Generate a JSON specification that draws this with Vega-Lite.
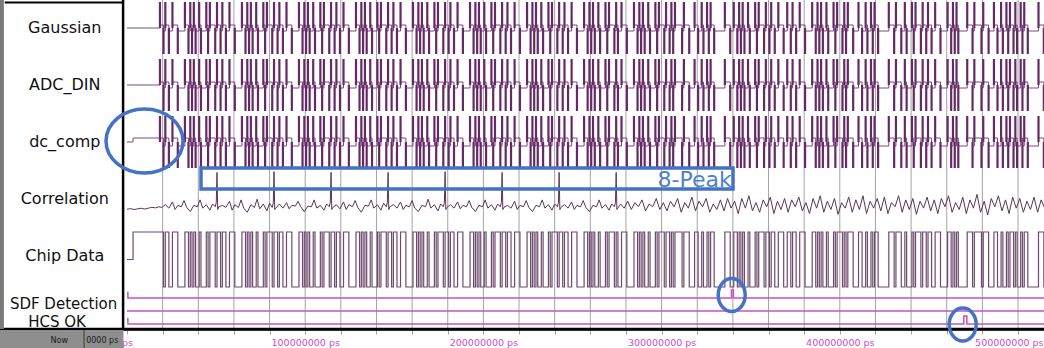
{
"$schema":"https://vega.github.io/schema/vega-lite/v6.json",
"width":1044,"height":329,"autosize":"none",
"padding":{"left":0,"top":0,"right":0,"bottom":19},
"background":"#ffffff",
"config":{"view":{"stroke":null},"font":"DejaVu Sans"},
"datasets":{
"grid":[{"t":20},{"t":40},{"t":60},{"t":80},{"t":100},{"t":120},{"t":140},{"t":160},{"t":180},{"t":200},{"t":220},{"t":240},{"t":260},{"t":280},{"t":300},{"t":320},{"t":340},{"t":360},{"t":380},{"t":400},{"t":420},{"t":440},{"t":460},{"t":480},{"t":500}],
"lead":[{"t":0,"c":0.5},{"t":18.5,"c":0.5}],
"sdf":[{"t":0,"c":0.7},{"t":0.5,"c":0},{"t":339.2,"c":1},{"t":340.3,"c":0},{"t":515,"c":0}],
"hcs":[{"t":0,"c":0.7},{"t":0.5,"c":0},{"t":469.6,"c":1},{"t":471.3,"c":0},{"t":515,"c":0}],
"labels":[{"name":"Gaussian","lane":0},{"name":"ADC_DIN","lane":1},{"name":"dc_comp","lane":2},{"name":"Correlation","lane":3},{"name":"Chip Data","lane":4},{"name":"SDF Detection","lane":4.842},{"name":"HCS OK","lane":5.158}],
"chips":[{"t":0,"c":0.5},{"t":3.4,"c":1},{"t":18.5,"c":1},
{"t":20.5,"c":0},{"t":21.5,"c":1},{"t":23.5,"c":0},{"t":25.5,"c":1},{"t":28.5,"c":0},{"t":32.5,"c":1},{"t":34.5,"c":0},{"t":35.5,"c":1},{"t":36.5,"c":0},{"t":37.5,"c":1},{"t":38.5,"c":0},{"t":40.5,"c":1},{"t":41.5,"c":0},{"t":44.5,"c":1},{"t":45.5,"c":0},{"t":46.5,"c":1},{"t":49.5,"c":0},
{"t":50.5,"c":1},{"t":52.5,"c":0},{"t":53.5,"c":1},{"t":55.5,"c":0},{"t":57.5,"c":1},{"t":60.5,"c":0},{"t":64.5,"c":1},{"t":66.5,"c":0},{"t":67.5,"c":1},{"t":68.5,"c":0},{"t":69.5,"c":1},{"t":70.5,"c":0},{"t":72.5,"c":1},{"t":73.5,"c":0},{"t":76.5,"c":1},{"t":77.5,"c":0},{"t":78.5,"c":1},{"t":81.5,"c":0},
{"t":82.5,"c":1},{"t":84.5,"c":0},{"t":85.5,"c":1},{"t":87.5,"c":0},{"t":89.5,"c":1},{"t":92.5,"c":0},{"t":96.5,"c":1},{"t":98.5,"c":0},{"t":99.5,"c":1},{"t":100.5,"c":0},{"t":101.5,"c":1},{"t":102.5,"c":0},{"t":104.5,"c":1},{"t":105.5,"c":0},{"t":108.5,"c":1},{"t":109.5,"c":0},{"t":110.5,"c":1},{"t":113.5,"c":0},
{"t":114.5,"c":1},{"t":116.5,"c":0},{"t":117.5,"c":1},{"t":119.5,"c":0},{"t":121.5,"c":1},{"t":124.5,"c":0},{"t":128.5,"c":1},{"t":130.5,"c":0},{"t":131.5,"c":1},{"t":132.5,"c":0},{"t":133.5,"c":1},{"t":134.5,"c":0},{"t":136.5,"c":1},{"t":137.5,"c":0},{"t":140.5,"c":1},{"t":141.5,"c":0},{"t":142.5,"c":1},{"t":145.5,"c":0},
{"t":146.5,"c":1},{"t":148.5,"c":0},{"t":149.5,"c":1},{"t":151.5,"c":0},{"t":153.5,"c":1},{"t":156.5,"c":0},{"t":160.5,"c":1},{"t":162.5,"c":0},{"t":163.5,"c":1},{"t":164.5,"c":0},{"t":165.5,"c":1},{"t":166.5,"c":0},{"t":168.5,"c":1},{"t":169.5,"c":0},{"t":172.5,"c":1},{"t":173.5,"c":0},{"t":174.5,"c":1},{"t":177.5,"c":0},
{"t":178.5,"c":1},{"t":180.5,"c":0},{"t":181.5,"c":1},{"t":183.5,"c":0},{"t":185.5,"c":1},{"t":188.5,"c":0},{"t":192.5,"c":1},{"t":194.5,"c":0},{"t":195.5,"c":1},{"t":196.5,"c":0},{"t":197.5,"c":1},{"t":198.5,"c":0},{"t":200.5,"c":1},{"t":201.5,"c":0},{"t":204.5,"c":1},{"t":205.5,"c":0},{"t":206.5,"c":1},{"t":209.5,"c":0},
{"t":210.5,"c":1},{"t":212.5,"c":0},{"t":213.5,"c":1},{"t":215.5,"c":0},{"t":217.5,"c":1},{"t":220.5,"c":0},{"t":224.5,"c":1},{"t":226.5,"c":0},{"t":227.5,"c":1},{"t":228.5,"c":0},{"t":229.5,"c":1},{"t":230.5,"c":0},{"t":232.5,"c":1},{"t":233.5,"c":0},{"t":236.5,"c":1},{"t":237.5,"c":0},{"t":238.5,"c":1},{"t":241.5,"c":0},
{"t":242.5,"c":1},{"t":244.5,"c":0},{"t":245.5,"c":1},{"t":247.5,"c":0},{"t":249.5,"c":1},{"t":252.5,"c":0},{"t":256.5,"c":1},{"t":258.5,"c":0},{"t":259.5,"c":1},{"t":260.5,"c":0},{"t":261.5,"c":1},{"t":262.5,"c":0},{"t":264.5,"c":1},{"t":265.5,"c":0},{"t":268.5,"c":1},{"t":269.5,"c":0},{"t":270.5,"c":1},{"t":273.5,"c":0},
{"t":274.5,"c":1},{"t":275.5,"c":0},{"t":277.5,"c":1},{"t":280.5,"c":0},{"t":284.5,"c":1},{"t":286.5,"c":0},{"t":287.5,"c":1},{"t":288.5,"c":0},{"t":289.5,"c":1},{"t":290.5,"c":0},{"t":292.5,"c":1},{"t":293.5,"c":0},{"t":296.5,"c":1},{"t":297.5,"c":0},{"t":298.5,"c":1},{"t":301.5,"c":0},{"t":302.5,"c":1},{"t":304.5,"c":0},{"t":305.5,"c":1},
{"t":306.5,"c":0},{"t":307.5,"c":1},{"t":311.5,"c":0},{"t":312.5,"c":1},{"t":315.5,"c":0},{"t":318.5,"c":1},{"t":320.5,"c":0},{"t":322.5,"c":1},{"t":323.5,"c":0},{"t":325.5,"c":1},{"t":326.5,"c":0},{"t":327.5,"c":1},{"t":329.5,"c":0},{"t":335.5,"c":1},
{"t":338.5,"c":0},{"t":340.5,"c":1},{"t":342.5,"c":0},{"t":343.5,"c":1},{"t":344.5,"c":0},{"t":345.5,"c":1},{"t":346.5,"c":0},{"t":348.5,"c":1},{"t":349.5,"c":0},{"t":352.5,"c":1},{"t":353.5,"c":0},{"t":354.5,"c":1},{"t":357.5,"c":0},{"t":358.5,"c":1},{"t":360.5,"c":0},{"t":361.5,"c":1},{"t":363.5,"c":0},{"t":365.5,"c":1},{"t":368.5,"c":0},
{"t":370.5,"c":1},{"t":372.5,"c":0},{"t":373.5,"c":1},{"t":375.5,"c":0},{"t":377.5,"c":1},{"t":380.5,"c":0},{"t":384.5,"c":1},{"t":386.5,"c":0},{"t":387.5,"c":1},{"t":388.5,"c":0},{"t":389.5,"c":1},{"t":390.5,"c":0},{"t":392.5,"c":1},{"t":393.5,"c":0},{"t":396.5,"c":1},{"t":397.5,"c":0},{"t":398.5,"c":1},{"t":401.5,"c":0},
{"t":402.5,"c":1},{"t":403.5,"c":0},{"t":404.5,"c":1},{"t":407.5,"c":0},{"t":410.5,"c":1},{"t":412.5,"c":0},{"t":414.5,"c":1},{"t":415.5,"c":0},{"t":417.5,"c":1},{"t":418.5,"c":0},{"t":419.5,"c":1},{"t":421.5,"c":0},{"t":427.5,"c":1},{"t":430.5,"c":0},{"t":431.5,"c":1},
{"t":434.5,"c":0},{"t":436.5,"c":1},{"t":437.5,"c":0},{"t":440.5,"c":1},{"t":441.5,"c":0},{"t":442.5,"c":1},{"t":445.5,"c":0},{"t":446.5,"c":1},{"t":448.5,"c":0},{"t":449.5,"c":1},{"t":451.5,"c":0},{"t":453.5,"c":1},{"t":456.5,"c":0},{"t":460.5,"c":1},{"t":462.5,"c":0},{"t":463.5,"c":1},{"t":464.5,"c":0},{"t":465.5,"c":1},
{"t":466.5,"c":0},{"t":471.5,"c":1},{"t":474.5,"c":0},{"t":475.5,"c":1},{"t":479.5,"c":0},{"t":480.5,"c":1},{"t":483.5,"c":0},{"t":486.5,"c":1},{"t":488.5,"c":0},{"t":490.5,"c":1},{"t":491.5,"c":0},{"t":493.5,"c":1},{"t":494.5,"c":0},{"t":495.5,"c":1},{"t":497.5,"c":0},
{"t":498.5,"c":1},{"t":499.5,"c":0},{"t":501.5,"c":1},{"t":502.5,"c":0},{"t":503.5,"c":1},{"t":505.5,"c":0},{"t":511.5,"c":1},{"t":514.5,"c":0},{"t":516,"c":0}],
"corr":[{"t":0,"c":4.2},{"t":2,"c":4.6},{"t":4,"c":4.0},{"t":6,"c":4.5},{"t":8,"c":4.9},{"t":10,"c":4.3},{"t":12,"c":5.0},{"t":14,"c":5.6},{"t":16,"c":5.2},{"t":18,"c":6.0},
{"t":19.5,"c":5.5},{"t":21.5,"c":7.5},{"t":23.5,"c":5},{"t":25.5,"c":9.5},{"t":27,"c":4},{"t":28.5,"c":7},{"t":30.5,"c":6},{"t":32,"c":10.5},{"t":33.5,"c":5.5},{"t":35.5,"c":2.5},{"t":37.5,"c":7},{"t":39.5,"c":6},{"t":41,"c":11},{"t":42.5,"c":5},{"t":44.5,"c":7.5},{"t":46.5,"c":3.5},{"t":48,"c":8},{"t":49.5,"c":6},{"t":50.1,"c":9},{"t":50.5,"c":31},{"t":50.9,"c":4},
{"t":51.5,"c":6},{"t":53.5,"c":7},{"t":55.5,"c":5.5},{"t":57.5,"c":10},{"t":59,"c":3.5},{"t":60.5,"c":7.5},{"t":62.5,"c":5.5},{"t":64,"c":11},{"t":65.5,"c":5},{"t":67.5,"c":2},{"t":69.5,"c":7.5},{"t":71.5,"c":5.5},{"t":73,"c":11.5},{"t":74.5,"c":4.5},{"t":76.5,"c":8},{"t":78.5,"c":3},{"t":80,"c":8.5},{"t":81.5,"c":5.5},{"t":82.1,"c":9},{"t":82.5,"c":31.5},{"t":82.9,"c":4},
{"t":83.5,"c":5},{"t":85.5,"c":8},{"t":87.5,"c":5},{"t":89.5,"c":9},{"t":91,"c":4.5},{"t":92.5,"c":7},{"t":94.5,"c":6.5},{"t":96,"c":10},{"t":97.5,"c":6},{"t":99.5,"c":2.5},{"t":101.5,"c":6.5},{"t":103.5,"c":6},{"t":105,"c":11},{"t":106.5,"c":5},{"t":108.5,"c":7},{"t":110.5,"c":3.5},{"t":112,"c":8},{"t":113.5,"c":6},{"t":114.1,"c":9.5},{"t":114.5,"c":31},{"t":114.9,"c":4},
{"t":115.5,"c":5.5},{"t":117.5,"c":7.5},{"t":119.5,"c":4.5},{"t":121.5,"c":9.5},{"t":123,"c":4},{"t":124.5,"c":7.5},{"t":126.5,"c":6},{"t":128,"c":10.5},{"t":129.5,"c":5.5},{"t":131.5,"c":2},{"t":133.5,"c":7},{"t":135.5,"c":6.5},{"t":137,"c":11},{"t":138.5,"c":5},{"t":140.5,"c":7.5},{"t":142.5,"c":3.5},{"t":144,"c":8.5},{"t":145.5,"c":6},{"t":146.1,"c":9},{"t":146.5,"c":31},{"t":146.9,"c":4},
{"t":147.5,"c":6},{"t":149.5,"c":7.5},{"t":151.5,"c":5},{"t":153.5,"c":9.5},{"t":155,"c":4},{"t":156.5,"c":7},{"t":158.5,"c":6},{"t":160,"c":10.5},{"t":161.5,"c":5},{"t":163.5,"c":2.5},{"t":165.5,"c":7},{"t":167.5,"c":6},{"t":169,"c":11.5},{"t":170.5,"c":5},{"t":172.5,"c":7.5},{"t":174.5,"c":3},{"t":176,"c":8},{"t":177.5,"c":6},{"t":178.1,"c":9},{"t":178.5,"c":31.5},{"t":178.9,"c":4},
{"t":179.5,"c":5.5},{"t":181.5,"c":7.5},{"t":183.5,"c":5},{"t":185.5,"c":9.5},{"t":187,"c":4.5},{"t":188.5,"c":7},{"t":190.5,"c":6},{"t":192,"c":10.5},{"t":193.5,"c":5.5},{"t":195.5,"c":2.5},{"t":197.5,"c":7},{"t":199.5,"c":6},{"t":201,"c":11},{"t":202.5,"c":5},{"t":204.5,"c":7.5},{"t":206.5,"c":3.5},{"t":208,"c":8},{"t":209.5,"c":6},{"t":210.1,"c":9},{"t":210.5,"c":31},{"t":210.9,"c":4},
{"t":211.5,"c":5.5},{"t":213.5,"c":7},{"t":215.5,"c":5},{"t":217.5,"c":10},{"t":219,"c":4},{"t":220.5,"c":7},{"t":222.5,"c":6},{"t":224,"c":10.5},{"t":225.5,"c":5.5},{"t":227.5,"c":2.5},{"t":229.5,"c":7},{"t":231.5,"c":6},{"t":233,"c":11},{"t":234.5,"c":5},{"t":236.5,"c":7.5},{"t":238.5,"c":3.5},{"t":240,"c":8},{"t":241.5,"c":6},{"t":242.1,"c":9},{"t":242.5,"c":31},{"t":242.9,"c":4},
{"t":243.5,"c":5.5},{"t":245.5,"c":7.5},{"t":247.5,"c":5},{"t":249.5,"c":9.5},{"t":251,"c":4},{"t":252.5,"c":7},{"t":254.5,"c":6},{"t":256,"c":10.5},{"t":257.5,"c":5.5},{"t":259.5,"c":2.5},{"t":261.5,"c":7},{"t":263.5,"c":6},{"t":265,"c":11},{"t":266.5,"c":5},{"t":268.5,"c":7.5},{"t":270.5,"c":3.5},{"t":272,"c":8},{"t":273.5,"c":6},{"t":274.1,"c":9},{"t":274.5,"c":31},{"t":274.9,"c":4},
{"t":277,"c":8},{"t":279,"c":5},{"t":281,"c":10},{"t":283,"c":4},{"t":285,"c":9},{"t":287,"c":6},{"t":289,"c":11},{"t":291,"c":3},{"t":293,"c":8},{"t":295,"c":6},{"t":297,"c":12},{"t":299,"c":4},{"t":301,"c":9},{"t":303,"c":3},{"t":305,"c":10},{"t":307,"c":6},{"t":309,"c":12},{"t":311,"c":2},{"t":313,"c":9},{"t":315,"c":5},{"t":317,"c":13},{"t":319,"c":3},{"t":321,"c":10},{"t":323,"c":6},{"t":325,"c":12},{"t":327,"c":2},{"t":329,"c":8},{"t":331,"c":4},{"t":333,"c":11},{"t":335,"c":3},{"t":337,"c":12},{"t":339,"c":5},{"t":341,"c":10},{"t":343,"c":1},{"t":345,"c":12},{"t":347,"c":5},{"t":349,"c":14},{"t":351,"c":3},{"t":353,"c":9},{"t":355,"c":2},{"t":357,"c":11},{"t":359,"c":6},{"t":361,"c":13},{"t":363,"c":1},{"t":365,"c":10},{"t":367,"c":4},{"t":369,"c":12},{"t":371,"c":2},{"t":373,"c":11},{"t":375,"c":6},{"t":377,"c":13},{"t":379,"c":3},{"t":381,"c":9},{"t":383,"c":1},{"t":385,"c":12},{"t":387,"c":5},{"t":389,"c":14},{"t":391,"c":2},{"t":393,"c":10},{"t":395,"c":4},{"t":397,"c":12},{"t":399,"c":0.5},{"t":401,"c":9},{"t":403,"c":5},{"t":405,"c":13},{"t":407,"c":2},{"t":409,"c":11},{"t":411,"c":4},{"t":413,"c":14},{"t":415,"c":1},{"t":417,"c":10},{"t":419,"c":5},{"t":421,"c":12},{"t":423,"c":3},{"t":425,"c":13},{"t":427,"c":1},{"t":429,"c":9},{"t":431,"c":6},{"t":433,"c":14},{"t":435,"c":2},{"t":437,"c":11},{"t":439,"c":4},{"t":441,"c":12},{"t":443,"c":0.5},{"t":445,"c":10},{"t":447,"c":5},{"t":449,"c":13},{"t":451,"c":3},{"t":453,"c":11},{"t":455,"c":1},{"t":457,"c":12},{"t":459,"c":6},{"t":461,"c":14},{"t":463,"c":2},{"t":465,"c":9},{"t":467,"c":4},{"t":469,"c":13},{"t":471,"c":1},{"t":473,"c":11},{"t":475,"c":5},{"t":477,"c":15},{"t":479,"c":2},{"t":481,"c":10},{"t":483,"c":0},{"t":485,"c":12},{"t":487,"c":6},{"t":489,"c":14},{"t":491,"c":3},{"t":493,"c":11},{"t":495,"c":1},{"t":497,"c":13},{"t":499,"c":5},{"t":501,"c":12},{"t":503,"c":2},{"t":505,"c":10},{"t":507,"c":4},{"t":509,"c":13},{"t":511,"c":2},{"t":513,"c":11},{"t":515,"c":5}]
},
"resolve":{"scale":{"y":"independent"}},
"layer":[
{"data":{"name":"grid"},"mark":{"type":"rule","color":"#a3a3a3","strokeWidth":1},"encoding":{"x":{"field":"t","type":"quantitative","axis":{"title":null}}}},
{"data":{"values":[{}]},"mark":{"type":"rule","color":"#c452c4","strokeWidth":1.5},"encoding":{"x":{"datum":0,"type":"quantitative","axis":{"title":null}},"x2":{"datum":515},"y":{"datum":4.965,"type":"quantitative","scale":{"domain":[-0.491228,5.280702],"reverse":true,"nice":false,"zero":false},"axis":null}}},
{"data":{"name":"sdf"},"mark":{"type":"line","interpolate":"step-after","color":"#c452c4","strokeWidth":1.5},"encoding":{"x":{"field":"t","type":"quantitative","axis":{"title":null}},"y":{"field":"c","type":"quantitative","scale":{"domain":[-3.875,37.25],"nice":false,"zero":false},"axis":null}}},
{"data":{"name":"hcs"},"mark":{"type":"line","interpolate":"step-after","color":"#c452c4","strokeWidth":1.5},"encoding":{"x":{"field":"t","type":"quantitative","axis":{"title":null}},"y":{"field":"c","type":"quantitative","scale":{"domain":[-0.625,40.5],"nice":false,"zero":false},"axis":null}}},
{"data":{"name":"lead"},"mark":{"type":"line","color":"#7a4a7a","strokeWidth":1},"encoding":{"x":{"field":"t","type":"quantitative","axis":{"title":null}},"y":{"field":"c","type":"quantitative","scale":{"domain":[-49.666667,5.166667],"nice":false,"zero":false},"axis":null}}},
{"data":{"name":"chips"},"transform":[{"filter":"datum.t >= 18"}],"mark":{"type":"line","interpolate":"step-after","color":"#7a4a7a","strokeWidth":1},"encoding":{"x":{"field":"t","type":"quantitative","axis":{"title":null}},"y":{"field":"c","type":"quantitative","scale":{"domain":[-49.666667,5.166667],"nice":false,"zero":false},"axis":null}}},
{"data":{"name":"chips"},"transform":[{"filter":"datum.t >= 18 && datum.t < 515.5"}],"mark":{"type":"rule","color":"#652a65","strokeWidth":2.2},"encoding":{"x":{"field":"t","type":"quantitative","axis":{"title":null}},"y":{"field":"c","type":"quantitative","scale":{"domain":[-5.28846,1.03846],"nice":false,"zero":false},"axis":null},"y2":{"datum":0.5}}},
{"data":{"name":"lead"},"mark":{"type":"line","color":"#7a4a7a","strokeWidth":1},"encoding":{"x":{"field":"t","type":"quantitative","axis":{"title":null}},"y":{"field":"c","type":"quantitative","scale":{"domain":[-40.166667,14.666667],"nice":false,"zero":false},"axis":null}}},
{"data":{"name":"chips"},"transform":[{"filter":"datum.t >= 18"}],"mark":{"type":"line","interpolate":"step-after","color":"#7a4a7a","strokeWidth":1},"encoding":{"x":{"field":"t","type":"quantitative","axis":{"title":null}},"y":{"field":"c","type":"quantitative","scale":{"domain":[-40.166667,14.666667],"nice":false,"zero":false},"axis":null}}},
{"data":{"name":"chips"},"transform":[{"filter":"datum.t >= 18 && datum.t < 515.5"}],"mark":{"type":"rule","color":"#652a65","strokeWidth":2.2},"encoding":{"x":{"field":"t","type":"quantitative","axis":{"title":null}},"y":{"field":"c","type":"quantitative","scale":{"domain":[-4.19231,2.13462],"nice":false,"zero":false},"axis":null},"y2":{"datum":0.5}}},
{"data":{"name":"chips"},"mark":{"type":"line","interpolate":"step-after","color":"#7a4a7a","strokeWidth":1},"encoding":{"x":{"field":"t","type":"quantitative","axis":{"title":null}},"y":{"field":"c","type":"quantitative","scale":{"domain":[-22.875,18.25],"nice":false,"zero":false},"axis":null}}},
{"data":{"name":"chips"},"transform":[{"filter":"datum.t >= 18 && datum.t < 515.5"}],"mark":{"type":"rule","color":"#652a65","strokeWidth":2.2},"encoding":{"x":{"field":"t","type":"quantitative","axis":{"title":null}},"y":{"field":"c","type":"quantitative","scale":{"domain":[-3.09615,3.23077],"nice":false,"zero":false},"axis":null},"y2":{"datum":0.5}}},
{"data":{"name":"corr"},"mark":{"type":"line","color":"#5a3558","strokeWidth":1},"encoding":{"x":{"field":"t","type":"quantitative","scale":{"domain":[-71.27,514.59],"nice":false,"zero":false},
"axis":{"orient":"bottom","values":[0,5,10,15,20,25,30,35,40,45,50,55,60,65,70,75,80,85,90,95,100,105,110,115,120,125,130,135,140,145,150,155,160,165,170,175,180,185,190,195,200,205,210,215,220,225,230,235,240,245,250,255,260,265,270,275,280,285,290,295,300,305,310,315,320,325,330,335,340,345,350,355,360,365,370,375,380,385,390,395,400,405,410,415,420,425,430,435,440,445,450,455,460,465,470,475,480,485,490,495,500,505,510],
"labelExpr":"datum.value === 0 ? 'ps' : (datum.value % 100 === 0 ? datum.value + '000000 ps' : '')",
"labelAlign":{"condition":{"test":"datum.value === 500","value":"right"},"value":"center"},
"labelOffset":{"condition":{"test":"datum.value === 500","value":25},"value":0},
"title":null,"grid":false,"domain":true,"ticks":true,"labels":true,"domainColor":"#000000","domainWidth":2.5,"tickColor":"#a0a0a0","tickSize":5,"tickWidth":1,
"labelColor":"#c84fc8","labelFont":"DejaVu Sans","labelFontSize":9.5,"labelPadding":3,"labelOverlap":false,"labelFlush":false}},"y":{"field":"c","type":"quantitative","scale":{"domain":[-82.909,156.364],"nice":false,"zero":false},"axis":null}}},
{"data":{"name":"chips"},"mark":{"type":"line","interpolate":"step-after","color":"#6e4a6e","strokeWidth":1.2},"encoding":{"x":{"field":"t","type":"quantitative","axis":{"title":null}},"y":{"field":"c","type":"quantitative","scale":{"domain":[-0.76364,5.21818],"nice":false,"zero":false},"axis":null}}},
{"data":{"values":[{}]},"mark":{"type":"rule","color":"#000000","strokeWidth":2.5},"encoding":{"x":{"datum":-71.27,"type":"quantitative","axis":{"title":null}},"x2":{"datum":514.59},"y":{"datum":5.2807,"type":"quantitative","scale":{"domain":[-0.491228,5.280702],"reverse":true,"nice":false,"zero":false},"axis":null}}},
{"data":{"values":[{"t":-2.2}]},"mark":{"type":"rule","color":"#000000","strokeWidth":2.5},"encoding":{"x":{"field":"t","type":"quantitative","axis":{"title":null}}}},
{"data":{"values":[{"t":-70.2}]},"mark":{"type":"rule","color":"#7a7a7a","strokeWidth":4},"encoding":{"x":{"field":"t","type":"quantitative","axis":{"title":null}}}},
{"data":{"values":[{}]},"mark":{"type":"rule","color":"#000000","strokeWidth":2},"encoding":{"x":{"datum":-68.6,"type":"quantitative","axis":{"title":null}},"x2":{"datum":-2.2},"y":{"datum":-0.447,"type":"quantitative","scale":{"domain":[-0.491228,5.280702],"reverse":true,"nice":false,"zero":false},"axis":null}}},
{"data":{"name":"labels"},"transform":[{"filter":"datum.lane < 4.5"}],"mark":{"type":"text","fontSize":16,"color":"#111111","align":"center","baseline":"middle","font":"DejaVu Sans"},"encoding":{"x":{"datum":-34.9,"type":"quantitative","axis":{"title":null}},"y":{"field":"lane","type":"quantitative","scale":{"domain":[-0.491228,5.280702],"reverse":true,"nice":false,"zero":false},"axis":null},"text":{"field":"name","type":"nominal"}}},
{"data":{"name":"labels"},"transform":[{"filter":"datum.name === 'SDF Detection'"}],"mark":{"type":"text","fontSize":15,"color":"#111111","align":"center","baseline":"middle","font":"DejaVu Sans"},"encoding":{"x":{"datum":-35.6,"type":"quantitative","axis":{"title":null}},"y":{"field":"lane","type":"quantitative","scale":{"domain":[-0.491228,5.280702],"reverse":true,"nice":false,"zero":false},"axis":null},"text":{"field":"name","type":"nominal"}}},
{"data":{"name":"labels"},"transform":[{"filter":"datum.name === 'HCS OK'"}],"mark":{"type":"text","fontSize":15,"color":"#111111","align":"center","baseline":"middle","font":"DejaVu Sans"},"encoding":{"x":{"datum":-39.3,"type":"quantitative","axis":{"title":null}},"y":{"field":"lane","type":"quantitative","scale":{"domain":[-0.491228,5.280702],"reverse":true,"nice":false,"zero":false},"axis":null},"text":{"field":"name","type":"nominal"}}},
{"data":{"values":[{}]},"mark":{"type":"rect","color":"#8e8e8e"},"encoding":{"x":{"datum":-71.27,"type":"quantitative","axis":{"title":null}},"x2":{"datum":-2.0},"y":{"datum":5.3,"type":"quantitative","scale":{"domain":[-0.491228,5.280702],"reverse":true,"nice":false,"zero":false},"axis":null},"y2":{"datum":5.62}}},
{"data":{"values":[{}]},"mark":{"type":"rule","color":"#3a3a3a","strokeWidth":1},"encoding":{"x":{"datum":-24.1,"type":"quantitative","axis":{"title":null}},"y":{"datum":5.3,"type":"quantitative","scale":{"domain":[-0.491228,5.280702],"reverse":true,"nice":false,"zero":false},"axis":null},"y2":{"datum":5.62}}},
{"data":{"values":[{}]},"mark":{"type":"text","fontSize":8,"color":"#1a1a1a","align":"right","baseline":"middle","text":"Now"},"encoding":{"x":{"datum":-33.1,"type":"quantitative","axis":{"title":null}},"y":{"datum":5.491,"type":"quantitative","scale":{"domain":[-0.491228,5.280702],"reverse":true,"nice":false,"zero":false},"axis":null}}},
{"data":{"values":[{}]},"mark":{"type":"text","fontSize":8,"color":"#1a1a1a","align":"left","baseline":"middle","text":"0000 ps"},"encoding":{"x":{"datum":-22.9,"type":"quantitative","axis":{"title":null}},"y":{"datum":5.491,"type":"quantitative","scale":{"domain":[-0.491228,5.280702],"reverse":true,"nice":false,"zero":false},"axis":null}}},
{"data":{"values":[{}]},"mark":{"type":"text","fontSize":22,"color":"#4e7fd0","align":"right","baseline":"middle","text":"8-Peak"},"encoding":{"x":{"datum":339.4,"type":"quantitative","axis":{"title":null}},"y":{"datum":2.667,"type":"quantitative","scale":{"domain":[-0.491228,5.280702],"reverse":true,"nice":false,"zero":false},"axis":null}}},
{"data":{"values":[{}]},"mark":{"type":"rect","filled":false,"color":"#4472c4","strokeWidth":3.5},"encoding":{"x":{"datum":41.53,"type":"quantitative","axis":{"title":null}},"x2":{"datum":340.07},"y":{"datum":2.456,"type":"quantitative","scale":{"domain":[-0.491228,5.280702],"reverse":true,"nice":false,"zero":false},"axis":null},"y2":{"datum":2.8246}}},
{"data":{"values":[{}]},"mark":{"type":"point","shape":"M -1 0 A 1 0.831 0 1 1 1 0 A 1 0.831 0 1 1 -1 0 Z","size":5929,"filled":false,"color":"#4472c4","strokeWidth":3.5,"opacity":1},"encoding":{"x":{"datum":9.82,"type":"quantitative","axis":{"title":null}},"y":{"datum":1.982,"type":"quantitative","scale":{"domain":[-0.491228,5.280702],"reverse":true,"nice":false,"zero":false},"axis":null}}},
{"data":{"values":[{}]},"mark":{"type":"point","shape":"M -0.818 0 A 0.818 1 0 1 1 0.818 0 A 0.818 1 0 1 1 -0.818 0 Z","size":1089,"filled":false,"color":"#4472c4","strokeWidth":3.5,"opacity":1},"encoding":{"x":{"datum":339.34,"type":"quantitative","axis":{"title":null}},"y":{"datum":4.684,"type":"quantitative","scale":{"domain":[-0.491228,5.280702],"reverse":true,"nice":false,"zero":false},"axis":null}}},
{"data":{"values":[{}]},"mark":{"type":"point","shape":"M -0.818 0 A 0.818 1 0 1 1 0.818 0 A 0.818 1 0 1 1 -0.818 0 Z","size":1089,"filled":false,"color":"#4472c4","strokeWidth":3.5,"opacity":1},"encoding":{"x":{"datum":468.97,"type":"quantitative","axis":{"title":null}},"y":{"datum":5.2018,"type":"quantitative","scale":{"domain":[-0.491228,5.280702],"reverse":true,"nice":false,"zero":false},"axis":null}}}
]
}
